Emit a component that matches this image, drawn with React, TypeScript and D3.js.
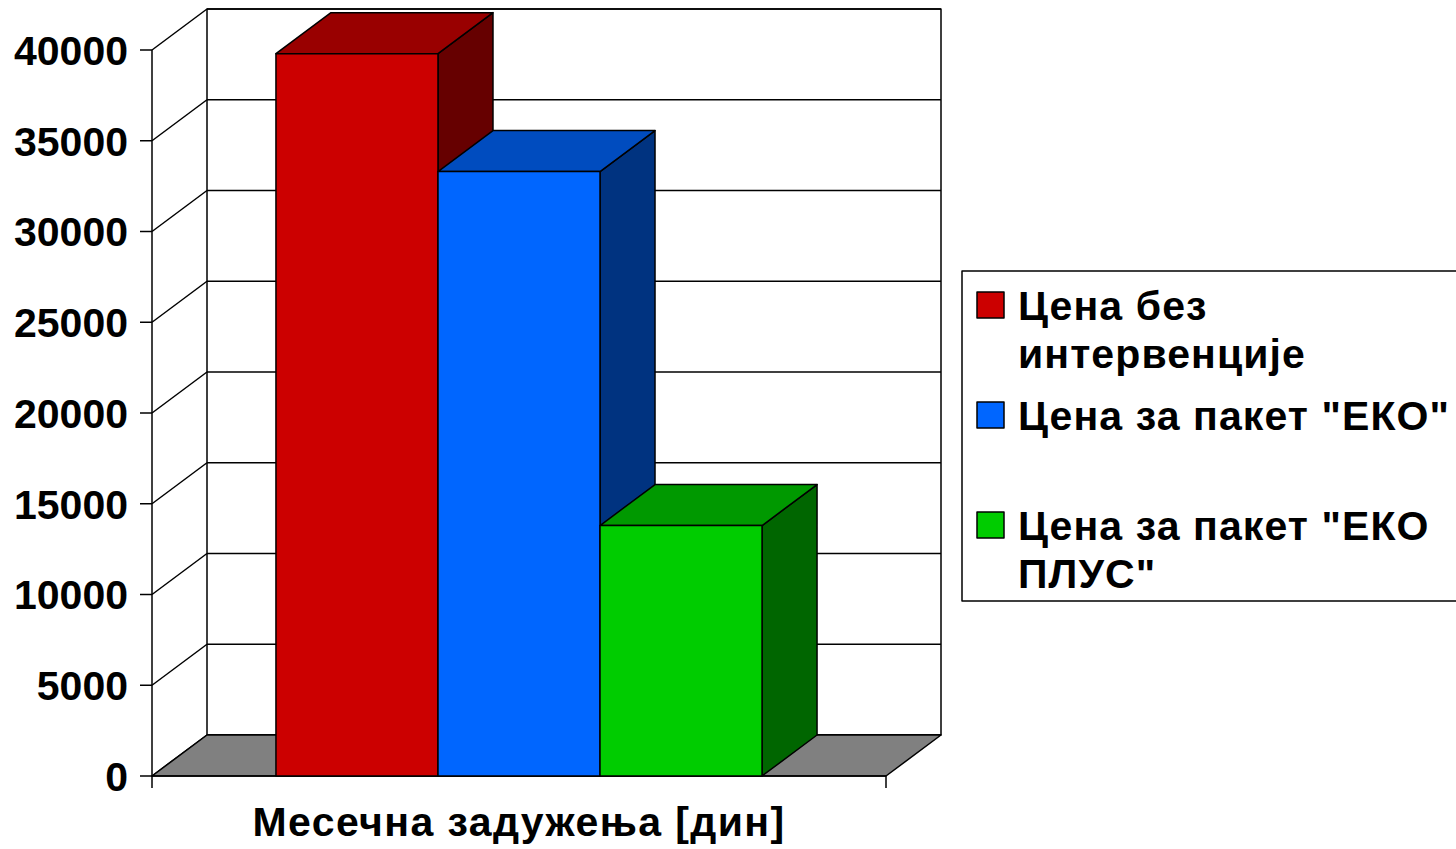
import React from 'react';
import * as d3 from 'd3';

const category = 'Месечна задужења [дин]';
const seriesNames = ['Цена без интервенције', 'Цена за пакет "ЕКО"', 'Цена за пакет "ЕКО ПЛУС"'];
const seriesValues = [39800, 33300, 13800];
const legendLines = [['Цена без', 'интервенције'], ['Цена за пакет "ЕКО"'], ['Цена за пакет "ЕКО', 'ПЛУС"']];
const yTicks = [0, 5000, 10000, 15000, 20000, 25000, 30000, 35000, 40000];

// front, top, side shades
const colors = [
  ['#CC0000', '#990000', '#660000'],
  ['#0066FF', '#004CBF', '#003380'],
  ['#00CC00', '#009900', '#006600'],
];

const W = 1456;
const H = 849;
const x0 = 152;
const x1 = 886;
const dx = 55;
const dy = -41;
const font = '"Liberation Sans", Arial, sans-serif';

const App: React.FC = () => {
  const y = d3.scaleLinear().domain([0, 40000]).range([776, 50]);
  const x = d3.scaleBand<string>().domain(seriesNames).range([x0, x1]).paddingInner(0).paddingOuter(0.765);
  const bw = x.bandwidth();
  const poly = (pts: [number, number][]) => 'M' + pts.map(p => p.join(',')).join('L') + 'Z';
  const stroke = { stroke: '#000', strokeWidth: 1.5, strokeLinejoin: 'round' as const };

  const legendY = [292, 402, 512];

  return (
    <svg width={W} height={H} style={{ position: 'absolute', left: 0, top: 0, background: '#fff' }}>
      {/* back wall */}
      <rect x={x0 + dx} y={y(40000) + dy} width={x1 - x0} height={y(0) - y(40000)} fill="#fff" {...stroke} />
      {/* gridlines on back wall and side */}
      {yTicks.map(t => (
        <g key={t}>
          <line x1={x0 + dx} x2={x1 + dx} y1={y(t) + dy} y2={y(t) + dy} {...stroke} />
          <line x1={x0} x2={x0 + dx} y1={y(t)} y2={y(t) + dy} {...stroke} />
          <line x1={x0 - 12} x2={x0} y1={y(t)} y2={y(t)} {...stroke} />
          <text x={128} y={y(t)} dy="0.36em" textAnchor="end" fontFamily={font} fontWeight="bold" fontSize={41}>
            {t}
          </text>
        </g>
      ))}
      {/* floor */}
      <path d={poly([[x0, y(0)], [x0 + dx, y(0) + dy], [x1 + dx, y(0) + dy], [x1, y(0)]])} fill="#808080" {...stroke} />
      {/* front axes */}
      <line x1={x0} x2={x0} y1={y(40000)} y2={y(0) + 12} {...stroke} />
      <line x1={x0} x2={x1} y1={y(0)} y2={y(0)} {...stroke} />
      <line x1={x1} x2={x1} y1={y(0)} y2={y(0) + 12} {...stroke} />
      {/* bars */}
      {seriesNames.map((s, i) => {
        const bx = x(s)!;
        const top = y(seriesValues[i]);
        const bot = y(0);
        const c = colors[i];
        return (
          <g key={s}>
            <path d={poly([[bx + bw, top], [bx + bw + dx, top + dy], [bx + bw + dx, bot + dy], [bx + bw, bot]])} fill={c[2]} {...stroke} />
            <path d={poly([[bx, top], [bx + dx, top + dy], [bx + bw + dx, top + dy], [bx + bw, top]])} fill={c[1]} {...stroke} />
            <rect x={bx} y={top} width={bw} height={bot - top} fill={c[0]} {...stroke} />
          </g>
        );
      })}
      {/* category label */}
      <text x={(x0 + x1) / 2} y={836} textAnchor="middle" fontFamily={font} fontWeight="bold" fontSize={41} letterSpacing={1.4}>
        {category}
      </text>
      {/* legend */}
      <rect x={962} y={271} width={520} height={330} fill="#fff" {...stroke} />
      {seriesNames.map((s, i) => (
        <g key={s}>
          <rect x={977} y={legendY[i]} width={27} height={26} fill={colors[i][0]} {...stroke} />
          {legendLines[i].map((ln, j) => (
            <text key={j} x={1018} y={legendY[i] + 28 + j * 48} fontFamily={font} fontWeight="bold" fontSize={41} letterSpacing={1.1}>
              {ln}
            </text>
          ))}
        </g>
      ))}
    </svg>
  );
};

export default App;
